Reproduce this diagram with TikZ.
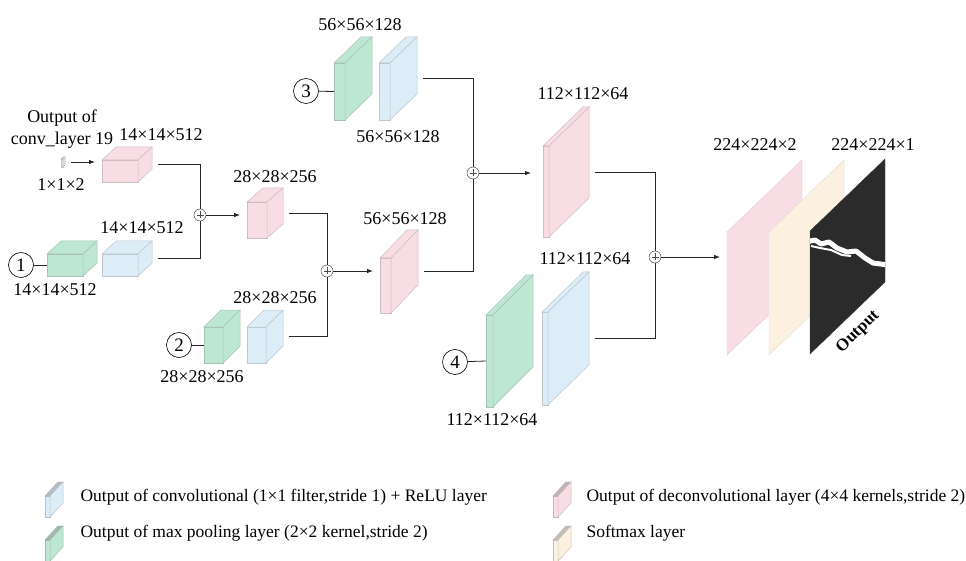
\documentclass[tikz,border=0pt]{standalone}
\usepackage{fontspec}
\setmainfont{Liberation Serif}
\usetikzlibrary{arrows.meta}

\definecolor{deconvpink}{RGB}{248,222,228}
\definecolor{convblue}{RGB}{221,237,248}
\definecolor{poolgreen}{RGB}{190,231,210}
\definecolor{softbeige}{RGB}{252,240,225}
\definecolor{mapblack}{RGB}{43,43,43}
\definecolor{tapgray}{RGB}{225,225,225}

\tikzset{
  % one feature map: width, height, depth x, depth y, colour
  pics/layer/.style n args={5}{code={
    \filldraw[fill=#5, draw=#5!65!gray, line width=0.5pt] (0,0) rectangle (#1,#2);
    \filldraw[fill=#5, draw=#5!65!gray, line width=0.5pt] (0,0) -- (#3,-#4) -- (#1+#3,-#4) -- (#1,0) -- cycle;
    \filldraw[fill=#5, draw=#5!65!gray, line width=0.5pt] (#1,0) -- (#1+#3,-#4) -- (#1+#3,#2-#4) -- (#1,#2) -- cycle;
    \coordinate (-w) at (0,#2/2);
    \coordinate (-e) at (#1+#3+6,#2/2-#4/2);
  }},
  % small map for the key, darker top
  pics/keyicon/.style={code={
    \filldraw[fill=#1, draw=#1!60!gray, line width=0.5pt] (0,0) rectangle (5,21);
    \filldraw[fill=#1!55!gray, draw=#1!50!gray, line width=0.5pt] (0,0) -- (13,-14) -- (18,-14) -- (5,0) -- cycle;
    \filldraw[fill=#1, draw=#1!60!gray, line width=0.5pt] (5,0) -- (18,-14) -- (18,7) -- (5,21) -- cycle;
  }},
  % flat output plane
  pics/plane/.style={code={
    \filldraw[fill=#1, draw=#1!80!gray, line width=0.4pt] (0,0) -- (75,-72) -- (75,51) -- (0,123) -- cycle;
    \coordinate (-w) at (0,25);
  }},
  plus/.style={circle, draw=black!70, line width=0.5pt, inner sep=0pt, minimum size=12,
    path picture={\draw[black!70, line width=0.5pt]
      ([xshift=-3.5pt]path picture bounding box.center) -- ([xshift=3.5pt]path picture bounding box.center)
      ([yshift=-3.5pt]path picture bounding box.center) -- ([yshift=3.5pt]path picture bounding box.center);}},
  num/.style={circle, draw, line width=0.6pt, inner sep=0pt, minimum size=25, font=\fontsize{19}{19}\selectfont},
  dim/.style={font=\fontsize{18}{22}\selectfont},
  keytext/.style={font=\fontsize{17.5}{22}\selectfont, anchor=west},
  link/.style={draw=black!85, line width=0.8pt},
  flow/.style={link, -{Latex[length=6pt,width=4.5pt]}},
}

\begin{document}
\begin{tikzpicture}[x=1pt,y=-1pt]
\useasboundingbox[fill=white] (0,0) rectangle (966,561);

% encoder taps and upsampling maps
\pic (in1) at (61,159) {layer={2}{8}{2}{2}{tapgray}};
\pic (pc1) at (102,160) {layer={36}{22}{14}{13}{deconvpink}};
\pic (gp1) at (47,254) {layer={36}{22}{14}{13}{poolgreen}};
\pic (bc1) at (102,254) {layer={36}{22}{14}{13}{convblue}};
\pic (pc2) at (247,202) {layer={20}{36}{16}{14}{deconvpink}};
\pic (gp2) at (204,327) {layer={19}{36}{17}{17}{poolgreen}};
\pic (bc2) at (247,327) {layer={19}{36}{17}{17}{convblue}};
\pic (pc3) at (380,258) {layer={11}{55}{27}{28}{deconvpink}};
\pic (gp3) at (334,63) {layer={11}{57}{27}{26}{poolgreen}};
\pic (bc3) at (379,63) {layer={11}{57}{27}{26}{convblue}};
\pic (pc4) at (543,146) {layer={6}{91}{40}{39}{deconvpink}};
\pic (gp4) at (486,315) {layer={7}{92}{40}{40}{poolgreen}};
\pic (bc4) at (542,312) {layer={6}{93}{41}{40}{convblue}};

% output planes
\pic (pl1) at (727,232) {plane=deconvpink};
\pic (pl2) at (769,232) {plane=softbeige};
\pic (pl3) at (810,231) {plane=mapblack};
\begin{scope}
  \clip (810,231) -- (885,159) -- (885,282) -- (810,354) -- cycle;
  \draw[white, line width=5pt, line join=round]
    (806,242) -- (815,240) -- (821,244) -- (829,242) -- (837,248) -- (847,252)
    -- (856,251) -- (865,258) -- (873,263) -- (888,265);
  \draw[white, line width=2pt, line join=round]
    (811,246) -- (820,248) -- (831,250) -- (842,255) -- (851,256);
\end{scope}
\node[font=\fontsize{17}{17}\selectfont\bfseries, rotate=44.5] (outlbl) at (858,332) {Output};

% skip inputs
\node[num] (n1) at (21,265) {1};
\node[num] (n2) at (179,345) {2};
\node[num] (n3) at (306,91) {3};
\node[num] (n4) at (455,362) {4};
\draw[link] (n1) -- (gp1-w);
\draw[link] (n2) -- (gp2-w);
\draw[link] (n3) -- (gp3-w);
\draw[link] (n4) -- (gp4-w);

% fusion points
\node[plus] (s1) at (200,215) {};
\node[plus] (s2) at (327,271) {};
\node[plus] (s3) at (473,173) {};
\node[plus] (s4) at (655,257) {};

\draw[flow, shorten >=7pt] (in1-e) -- (in1-e -| pc1-w);
\draw[link] (pc1-e) -| (s1);
\draw[link] (bc1-e) -| (s1);
\draw[flow, shorten >=7pt] (s1) -- (s1 -| pc2-w);
\draw[link] (pc2-e) -| (s2);
\draw[link] (bc2-e) -| (s2);
\draw[flow, shorten >=7pt] (s2) -- (s2 -| pc3-w);
\draw[link] (bc3-e) -| (s3);
\draw[link] (pc3-e) -| (s3);
\draw[flow, shorten >=12pt] (s3) -- (s3 -| pc4-w);
\draw[link] (pc4-e) -| (s4);
\draw[link] (bc4-e) -| (s4);
\draw[flow, shorten >=7pt] (s4) -- (pl1-w);

% sizes
\node[dim, align=center] (srclbl) at (62,129) {Output of\\conv\_layer 19};
\foreach \nm/\x/\y/\txt in {
  d1/161/135/14×14×512, d2/61/185/1×1×2, d3/142/228/14×14×512, d4/55/290/14×14×512,
  d5/275/177/28×28×256, d6/275/298/28×28×256, d7/202/377/28×28×256,
  d8/405/219/56×56×128, d9/360/25/56×56×128, d10/398/137/56×56×128,
  d11/583/94/112×112×64, d12/585/259/112×112×64, d13/492/420/112×112×64,
  d14/755/145/224×224×2, d15/873/145/224×224×1}
  {\node[dim] (\nm) at (\x,\y) {\txt};}

% key
\pic (k1) at (45,496) {keyicon=convblue};
\pic (k2) at (45,540) {keyicon=poolgreen};
\pic (k3) at (553,496) {keyicon=deconvpink};
\pic (k4) at (553,540) {keyicon=softbeige};
\node[keytext] (t1) at (77,497) {Output of convolutional (1×1 filter,stride 1) + ReLU layer};
\node[keytext] (t2) at (77,533) {Output of max pooling layer (2×2 kernel,stride 2)};
\node[keytext] (t3) at (583,497) {Output of deconvolutional layer (4×4 kernels,stride 2)};
\node[keytext] (t4) at (583,533) {Softmax layer};
\end{tikzpicture}
\end{document}
